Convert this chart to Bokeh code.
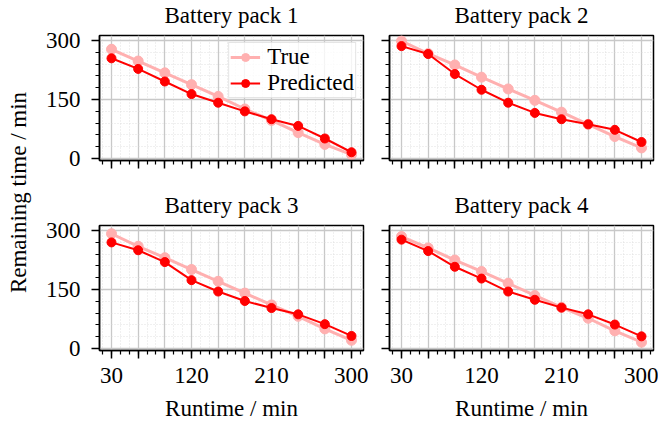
from math import pi
from bokeh.plotting import figure
from bokeh.models import Range1d, FixedTicker, Legend, LegendItem, Label
from bokeh.layouts import row, column
from bokeh.embed import file_html
from bokeh.resources import INLINE

# ---- data ----
runtime = [30, 60, 90, 120, 150, 180, 210, 240, 270, 300]
x_major = [30, 60, 90, 120, 150, 180, 210, 240, 270, 300]
x_labelled = [30, 120, 210, 300]
x_minor = [20, 30, 40, 50, 60, 70, 80, 90, 100, 110, 120, 130, 140, 150, 160, 170,
           180, 190, 200, 210, 220, 230, 240, 250, 260, 270, 280, 290, 300, 310]
y_major = [0, 150, 300]
y_minor = [0, 30, 60, 90, 120, 150, 180, 210, 240, 270, 300]

titles = ["Battery pack 1", "Battery pack 2", "Battery pack 3", "Battery pack 4"]
true_1 = [278, 248, 218, 188, 158, 126, 97, 66, 36, 10]
pred_1 = [255, 228, 196, 164, 142, 120, 100, 83, 51, 16]
true_2 = [299, 267, 238, 207, 177, 148, 118, 87, 56, 27]
pred_2 = [286, 266, 215, 175, 142, 116, 100, 87, 73, 42]
true_3 = [292, 260, 231, 201, 171, 141, 111, 82, 50, 21]
pred_3 = [270, 250, 220, 174, 145, 121, 103, 87, 62, 32]
true_4 = [285, 256, 225, 196, 166, 135, 105, 77, 45, 16]
pred_4 = [277, 248, 208, 178, 145, 124, 104, 87, 61, 31]

FONT = "Liberation Serif"
FS = "23px"
TRUE_C = "#ffb0b0"
PRED_C = "#ff0000"


def make_panel(title, tv, pv, left, bottom, legend=False):
    p = figure(
        frame_width=264, frame_height=125,
        x_range=Range1d(16.5, 313.5), y_range=Range1d(-5, 313),
        toolbar_location=None, output_backend="svg",
        min_border_top=43,
        min_border_bottom=76 if bottom else 22,
        min_border_left=61 if left else 21,
        min_border_right=5,
        background_fill_color="white", border_fill_color="white",
    )
    p.title.text = title
    p.title.align = "center"
    p.title.text_font = FONT
    p.title.text_font_size = FS
    p.title.text_font_style = "normal"
    p.title.text_color = "black"
    p.title.standoff = 16

    p.outline_line_color = "black"
    p.outline_line_width = 1.5
    p.outline_line_alpha = 1.0

    xt = FixedTicker(ticks=x_major, minor_ticks=x_minor)
    yt = FixedTicker(ticks=y_major, minor_ticks=y_minor)
    p.xaxis.ticker = xt
    p.yaxis.ticker = yt
    p.xgrid.ticker = xt
    p.ygrid.ticker = yt

    for ax in (p.xaxis, p.yaxis):
        ax.axis_line_color = "black"
        ax.axis_line_width = 1.5
        ax.major_tick_line_color = "black"
        ax.major_tick_line_width = 1.5
        ax.minor_tick_line_color = "black"
        ax.minor_tick_line_width = 1.2
        ax.major_tick_out = 8
        ax.major_tick_in = 0
        ax.minor_tick_out = 4
        ax.minor_tick_in = 0
        ax.major_label_text_font = FONT
        ax.major_label_text_font_size = FS
        ax.major_label_text_color = "black"
        ax.axis_label_text_font = FONT
        ax.axis_label_text_font_size = FS
        ax.axis_label_text_font_style = "normal"
        ax.axis_label_text_color = "black"

    if bottom:
        p.xaxis.major_label_overrides = {v: "" for v in x_major if v not in x_labelled}
        p.xaxis.major_label_standoff = 9
        p.xaxis.axis_label = "Runtime / min"
        p.xaxis.axis_label_standoff = 10
    else:
        p.xaxis.major_label_text_font_size = "0px"
        p.xaxis.major_label_text_color = None
        p.xaxis.major_label_standoff = 0

    if left:
        p.yaxis.major_label_standoff = 11
    else:
        p.yaxis.major_label_text_font_size = "0px"
        p.yaxis.major_label_text_color = None
        p.yaxis.major_label_standoff = 0

    for g in (p.xgrid, p.ygrid):
        g.grid_line_color = "#c8c8c8"
        g.grid_line_width = 1.3
        g.minor_grid_line_color = "#d9d9d9"
        g.minor_grid_line_width = 0.8
        g.minor_grid_line_dash = "1 2"

    tl = p.line(runtime, tv, line_color=TRUE_C, line_width=3)
    ts = p.scatter(runtime, tv, marker="circle", size=10, fill_color=TRUE_C, line_color=TRUE_C)
    pl = p.line(runtime, pv, line_color=PRED_C, line_width=2)
    ps = p.scatter(runtime, pv, marker="circle", size=9, fill_color=PRED_C, line_color=PRED_C)

    if legend:
        lg = Legend(items=[LegendItem(label="True", renderers=[tl, ts]),
                           LegendItem(label="Predicted", renderers=[pl, ps])],
                    location="top_right")
        lg.label_text_font = FONT
        lg.label_text_font_size = FS
        lg.label_text_color = "black"
        lg.glyph_width = 30
        lg.glyph_height = 20
        lg.label_standoff = 7
        lg.spacing = 0
        lg.padding = 1
        lg.margin = 7
        lg.border_line_color = "#cccccc"
        lg.border_line_width = 1
        lg.background_fill_color = "white"
        lg.background_fill_alpha = 0.8
        p.add_layout(lg)
    return p


p1 = make_panel(titles[0], true_1, pred_1, left=True, bottom=False, legend=True)
p2 = make_panel(titles[1], true_2, pred_2, left=False, bottom=False)
p3 = make_panel(titles[2], true_3, pred_3, left=True, bottom=True)
p4 = make_panel(titles[3], true_4, pred_4, left=False, bottom=True)

LAB_H = 434
lab = figure(width=38, height=LAB_H, x_range=Range1d(0, 38), y_range=Range1d(0, LAB_H),
             toolbar_location=None, output_backend="svg", min_border=0,
             x_axis_location=None, y_axis_location=None)
lab.outline_line_color = None
lab.xgrid.visible = False
lab.ygrid.visible = False
lab.add_layout(Label(x=18, y=LAB_H - 200, text="Remaining time / min", angle=pi / 2,
                     text_align="center", text_baseline="middle",
                     text_font=FONT, text_font_size=FS, text_color="black"))

layout = row(lab, column(row(p1, p2), row(p3, p4)),
             styles={"margin-top": "-8px"})

open("out.html", "w").write(file_html(layout, INLINE))
